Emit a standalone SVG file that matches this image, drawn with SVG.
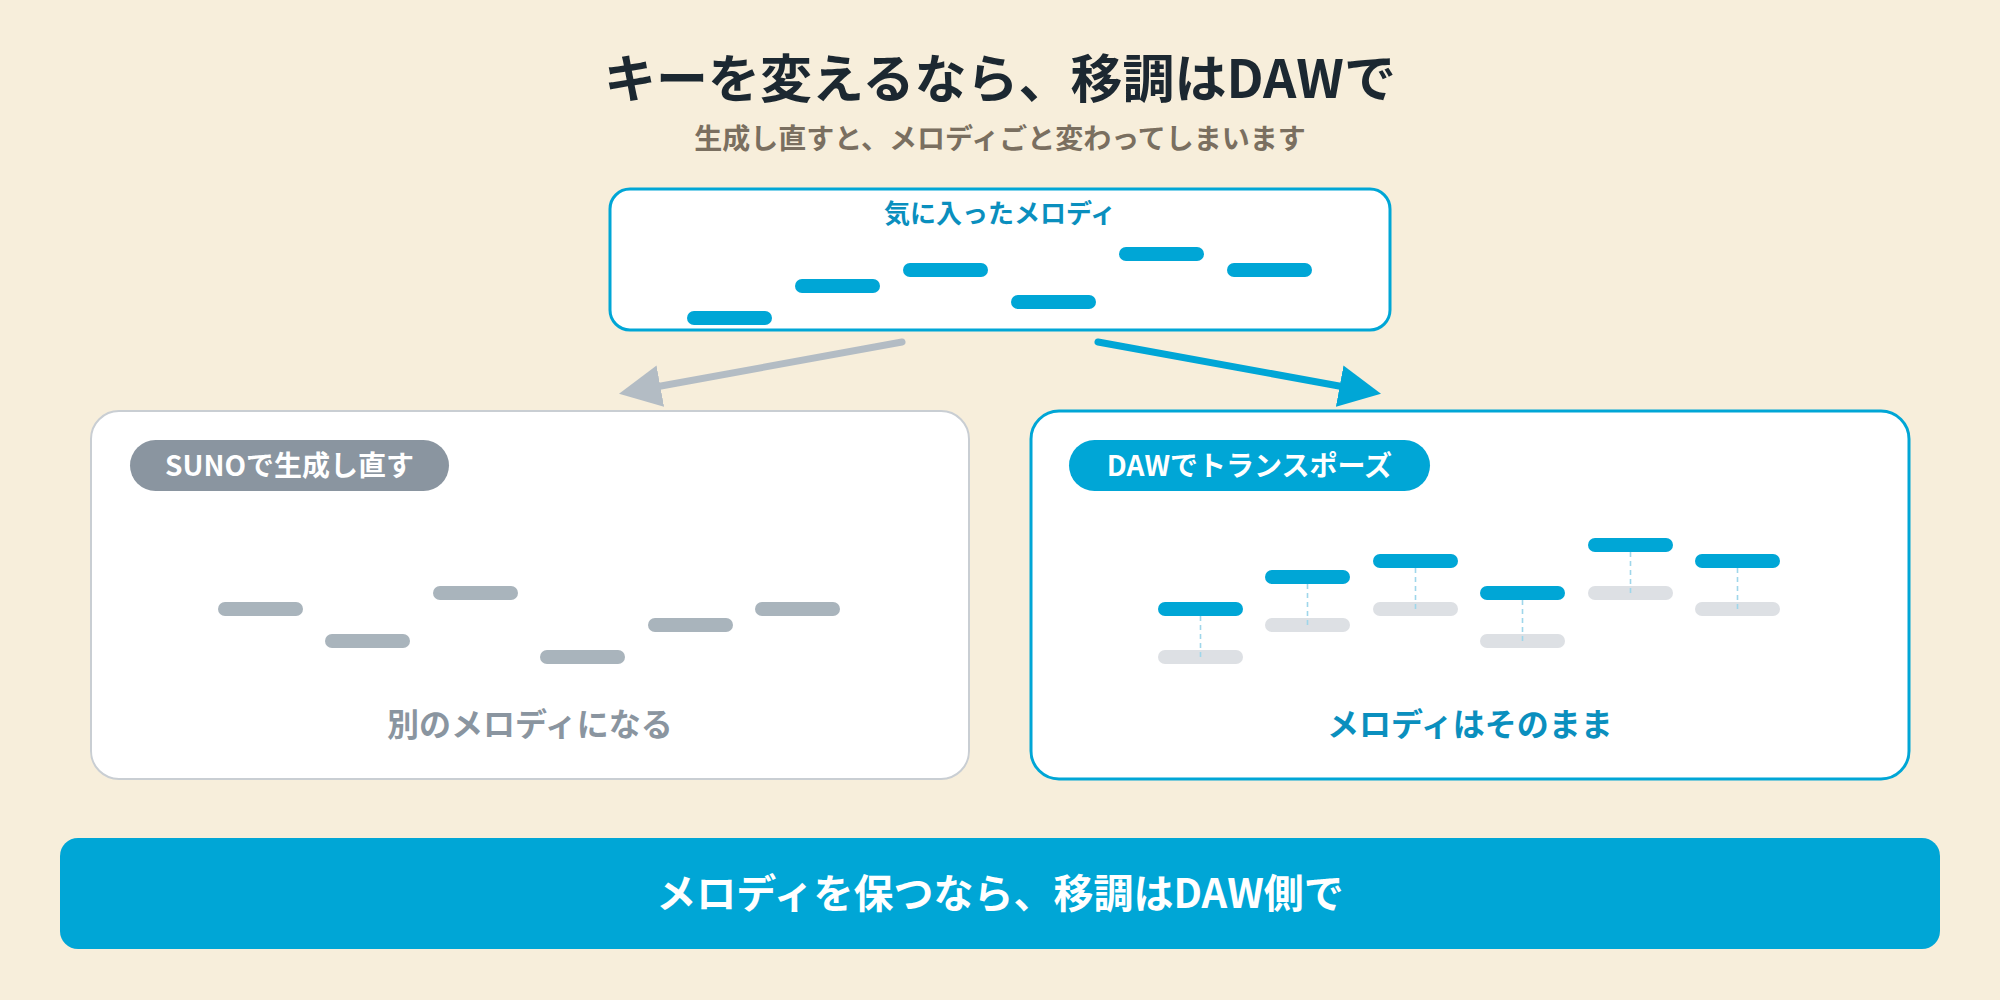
<svg xmlns="http://www.w3.org/2000/svg" width="2000" height="1000" viewBox="0 0 2000 1000">
<defs>
<style>
text{font-family:"Noto Sans CJK JP","Noto Sans",sans-serif;font-weight:700;text-anchor:middle}
.title{font-size:52px;fill:#1c2831}
.sub{font-size:28px;fill:#7a6f60}
.lblblue{font-size:26px;fill:#0a8fbe}
.pilltxt{font-size:28px;fill:#ffffff}
.res{font-size:32px}
.banner{font-size:40px;fill:#ffffff}
.nb{fill:#00a6d6}
.ng{fill:#a9b4bc}
.nl{fill:#dde0e4}
.dash{stroke:#9fd6ea;stroke-width:1.6;stroke-dasharray:5 4;fill:none}
</style>
<marker id="ahGray" markerWidth="6" markerHeight="6" refX="1.5" refY="3" orient="auto" markerUnits="strokeWidth" viewBox="0 0 6 6"><path d="M0,0 L6,3 L0,6 Z" fill="#b3bcc4"/></marker>
<marker id="ahBlue" markerWidth="6" markerHeight="6" refX="1.5" refY="3" orient="auto" markerUnits="strokeWidth" viewBox="0 0 6 6"><path d="M0,0 L6,3 L0,6 Z" fill="#00a6d6"/></marker>
</defs>
<rect width="2000" height="1000" fill="#f7eedb"/>
<text class="title" x="1000" y="98">キーを変えるなら、移調はDAWで</text>
<text class="sub" x="1000" y="149">生成し直すと、メロディごと変わってしまいます</text>

<g id="source">
<rect x="610" y="189" width="780" height="141" rx="20" fill="#ffffff" stroke="#00a6d6" stroke-width="3"/>
<text class="lblblue" x="1000" y="223">気に入ったメロディ</text>
<rect class="nb" x="687" y="311" width="85" height="14" rx="7"/>
<rect class="nb" x="795" y="279" width="85" height="14" rx="7"/>
<rect class="nb" x="903" y="263" width="85" height="14" rx="7"/>
<rect class="nb" x="1011" y="295" width="85" height="14" rx="7"/>
<rect class="nb" x="1119" y="247" width="85" height="14" rx="7"/>
<rect class="nb" x="1227" y="263" width="85" height="14" rx="7"/>
</g>

<g id="connectors">
<line x1="902" y1="342" x2="650" y2="388" stroke="#b3bcc4" stroke-width="7" stroke-linecap="round" marker-end="url(#ahGray)"/>
<line x1="1098" y1="342" x2="1350" y2="388" stroke="#00a6d6" stroke-width="7" stroke-linecap="round" marker-end="url(#ahBlue)"/>
</g>

<g id="suno">
<rect x="91" y="411" width="878" height="368" rx="28" fill="#ffffff" stroke="#c9ced3" stroke-width="2"/>
<rect x="130" y="440" width="319" height="51" rx="25.5" fill="#8a95a0"/>
<text class="pilltxt" x="289.5" y="476">SUNOで生成し直す</text>
<rect class="ng" x="218" y="602" width="85" height="14" rx="7"/>
<rect class="ng" x="325" y="634" width="85" height="14" rx="7"/>
<rect class="ng" x="433" y="586" width="85" height="14" rx="7"/>
<rect class="ng" x="540" y="650" width="85" height="14" rx="7"/>
<rect class="ng" x="648" y="618" width="85" height="14" rx="7"/>
<rect class="ng" x="755" y="602" width="85" height="14" rx="7"/>
<text class="res" x="530" y="736" fill="#8a95a0">別のメロディになる</text>
</g>

<g id="daw">
<rect x="1031" y="411" width="878" height="368" rx="28" fill="#ffffff" stroke="#00a6d6" stroke-width="3"/>
<rect x="1069" y="440" width="361" height="51" rx="25.5" fill="#00a6d6"/>
<text class="pilltxt" x="1249.5" y="476">DAWでトランスポーズ</text>
<rect class="nl" x="1158" y="650" width="85" height="14" rx="7"/>
<rect class="nl" x="1265" y="618" width="85" height="14" rx="7"/>
<rect class="nl" x="1373" y="602" width="85" height="14" rx="7"/>
<rect class="nl" x="1480" y="634" width="85" height="14" rx="7"/>
<rect class="nl" x="1588" y="586" width="85" height="14" rx="7"/>
<rect class="nl" x="1695" y="602" width="85" height="14" rx="7"/>
<line class="dash" x1="1200.5" y1="616" x2="1200.5" y2="657"/>
<line class="dash" x1="1307.5" y1="584" x2="1307.5" y2="625"/>
<line class="dash" x1="1415.5" y1="568" x2="1415.5" y2="609"/>
<line class="dash" x1="1522.5" y1="600" x2="1522.5" y2="641"/>
<line class="dash" x1="1630.5" y1="552" x2="1630.5" y2="593"/>
<line class="dash" x1="1737.5" y1="568" x2="1737.5" y2="609"/>
<rect class="nb" x="1158" y="602" width="85" height="14" rx="7"/>
<rect class="nb" x="1265" y="570" width="85" height="14" rx="7"/>
<rect class="nb" x="1373" y="554" width="85" height="14" rx="7"/>
<rect class="nb" x="1480" y="586" width="85" height="14" rx="7"/>
<rect class="nb" x="1588" y="538" width="85" height="14" rx="7"/>
<rect class="nb" x="1695" y="554" width="85" height="14" rx="7"/>
<text class="res" x="1470" y="736" fill="#0a8fbe">メロディはそのまま</text>
</g>

<g id="conclusion">
<rect x="60" y="838" width="1880" height="111" rx="18" fill="#00a6d6"/>
<text class="banner" x="1000" y="908">メロディを保つなら、移調はDAW側で</text>
</g>
</svg>
